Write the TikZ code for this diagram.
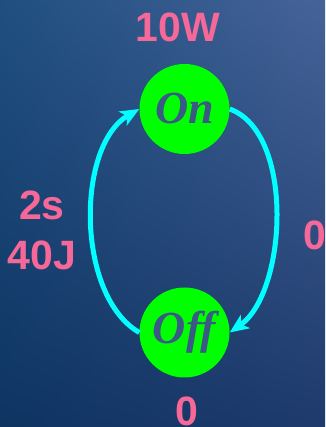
\documentclass[tikz,border=0pt]{standalone}
\usepackage{fontspec}
\setmainfont{Liberation Serif}
\newfontfamily\labfont{Liberation Sans}
\usetikzlibrary{arrows.meta,shadings}
\definecolor{bgUL}{RGB}{31,79,128}
\definecolor{bgUR}{RGB}{70,99,152}
\definecolor{bgLL}{RGB}{14,52,98}
\definecolor{bgLR}{RGB}{30,58,108}
\definecolor{statetext}{RGB}{58,90,133}
\definecolor{pinklab}{RGB}{246,104,152}
\definecolor{arccol}{RGB}{0,255,255}
\definecolor{stategreen}{RGB}{0,255,0}
\tikzset{
  statenode/.style={circle, fill=stategreen, minimum size=90pt, inner sep=0pt,
    text=statetext, font=\fontsize{46}{50}\selectfont\bfseries\itshape},
  labnode/.style={text=pinklab, font=\fontsize{41}{50}\selectfont\labfont\bfseries, inner sep=0pt, align=center},
  arcline/.style={draw=arccol, line width=5pt,
    -{Stealth[length=19pt,width=16pt,inset=5pt]}},
  arcplain/.style={draw=arccol, line width=5pt}
}
\begin{document}
\begin{tikzpicture}[x=1pt,y=1pt]
\shade[upper left=bgUL, upper right=bgUR, lower left=bgLL, lower right=bgLR] (0,0) rectangle (325,427);
\useasboundingbox (0,0) rectangle (325,427);
\node[statenode] (on) at (184.5,318) {On};
\node[statenode] (off) at (184.5,94.5) {Off};
\node[labnode] (pw) at (178,400) {10W};
\node[labnode] (cost) at (42,197) {2s\\40J};
\node[labnode] (zr) at (315,192) {0};
\node[labnode] (zb) at (187,15.5) {0};
\draw[arcline] (off.west) to[out=150,in=210,looseness=0.84] (on.west);
\draw[arcline] (on.east) to[out=-20,in=35,looseness=0.8] (off.east);
\end{tikzpicture}
\end{document}
